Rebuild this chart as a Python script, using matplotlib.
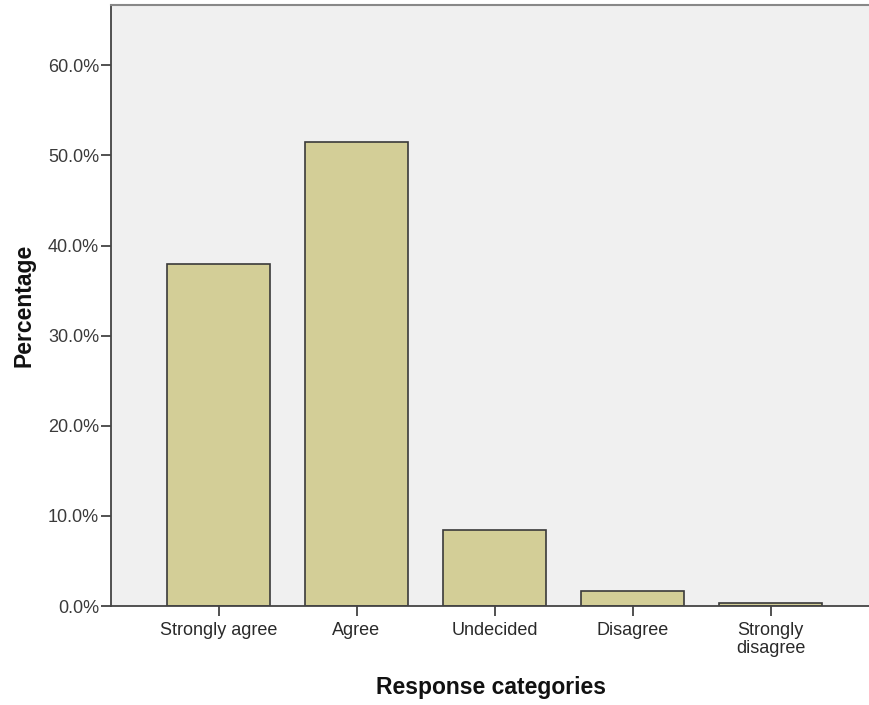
import matplotlib
matplotlib.use("Agg")
import matplotlib.pyplot as plt
from matplotlib.ticker import FuncFormatter

categories = ["Strongly agree", "Agree", "Undecided", "Disagree", "Strongly\ndisagree"]
percentages = [38.0, 51.5, 8.4, 1.7, 0.3]
yticks = [0, 10, 20, 30, 40, 50, 60]

plt.rcParams['font.family'] = ['Liberation Sans', 'DejaVu Sans']

fig = plt.figure(figsize=(8.7, 7.05), dpi=100)
ax = fig.add_axes([0.1276, 0.1404, 0.8724, 0.8525])
ax.set_facecolor('#F0F0F0')

x = list(range(len(categories)))
ax.bar(x, percentages, width=0.75, color='#D3CE97', edgecolor='#3A3A3A', linewidth=1.2, zorder=2)

ax.set_xlim(-0.779, 4.721)
ax.set_ylim(0, 66.7)
ax.set_yticks(yticks)
ax.yaxis.set_major_formatter(FuncFormatter(lambda v, p: f"{v:.1f}%"))
ax.set_xticks(x)
ax.set_xticklabels(categories, fontsize=13, linespacing=1.08)
ax.tick_params(axis='y', labelsize=13, colors='#333333', length=7.5, width=1.2, direction='out', pad=1)
ax.tick_params(axis='x', length=7.5, width=1.2, colors='#333333', direction='out', pad=4)
for lab in ax.get_xticklabels():
    lab.set_color('#2a2a2a')
for lab in ax.get_yticklabels():
    lab.set_color('#3a3a3a')

ax.spines['right'].set_visible(False)
ax.spines['left'].set_color('#444444')
ax.spines['left'].set_linewidth(1.3)
ax.spines['bottom'].set_color('#444444')
ax.spines['bottom'].set_linewidth(1.3)
ax.spines['top'].set_color('#888888')
ax.spines['top'].set_linewidth(1.5)

ax.set_xlabel("Response categories", fontsize=16.5, fontweight='bold', labelpad=14, color='#111111')
ax.set_ylabel("Percentage", fontsize=16.5, fontweight='bold', labelpad=9, color='#111111')

fig.savefig("out.png", dpi=100, facecolor='white')
